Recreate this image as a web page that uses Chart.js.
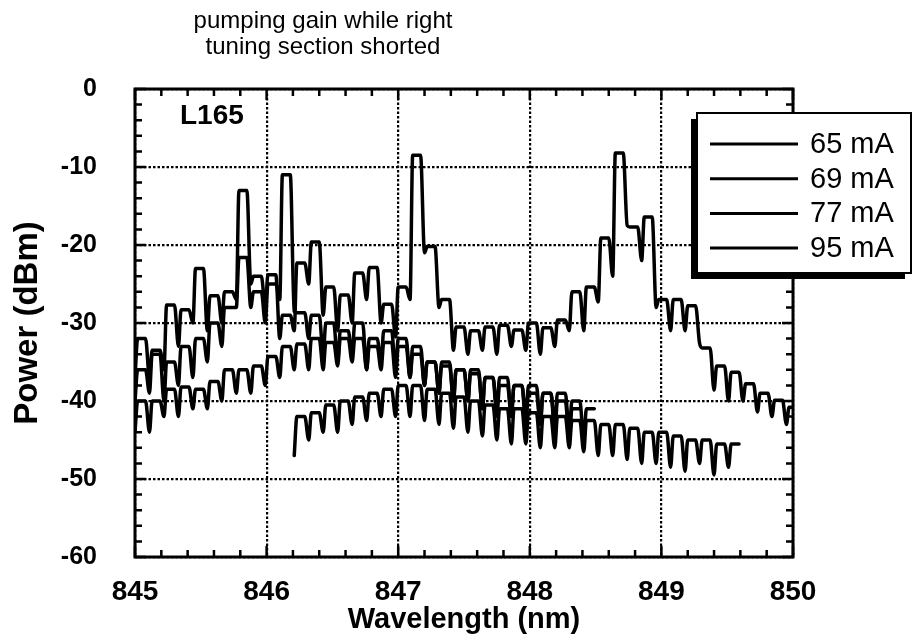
<!DOCTYPE html>
<html>
<head>
<meta charset="utf-8">
<script src="https://cdn.jsdelivr.net/npm/chart.js@4.4.1/dist/chart.umd.min.js"></script>
<style>
  html, body { margin: 0; padding: 0; background: #fff; }
</style>
</head>
<body>
<canvas id="myChart" width="914" height="637"></canvas>
<script>
// cavity mode positions (nm), one top/dip pair per mode
const modeWl = [845.00, 845.11, 845.22, 845.33, 845.44, 845.55, 845.66, 845.77, 845.88, 845.99,
                846.10, 846.21, 846.32, 846.43, 846.54, 846.65, 846.76, 846.87, 846.98, 847.09,
                847.20, 847.31, 847.42, 847.53, 847.64, 847.75, 847.86, 847.97, 848.08, 848.19,
                848.30, 848.41, 848.52, 848.63, 848.74, 848.85, 848.96, 849.07, 849.18, 849.29,
                849.40, 849.51, 849.62, 849.73, 849.84, 849.95];

const currents = ["65 mA", "69 mA", "77 mA", "95 mA"];

// power at the top of each mode and at the dip before it (dBm)
const top65 = [-32, -33.5, -27.7, -28.3, -23, -26.5, -26, -13, -24, -23.8,
               -29, -22.3, -19.6, -25.4, -26.4, -23.6, -22.9, -27.6, -25.4, -8.5,
               -20.2, -27, -30.5, -31, -30.5, -30.3, -30.9, -30, -30.6, -29.6,
               -26, -25.4, -19.1, -8.2, -17.7, -16.4, -27, -27, -27.8, -33.2,
               -35.5, -36.3, -37.8, -39, -39.9, -40.8];
const dip65 = [-37, -37, -36, -33, -30, -31, -30, -27, -25, -28,
               -32, -31, -25, -29, -31, -30, -27, -30, -31.8, -27,
               -21, -28, -33.5, -34, -33.5, -34, -33, -33.5, -34, -33,
               -31, -31, -27.3, -24, -17.5, -22, -28, -31, -31, -32.6,
               -38.6, -40, -40, -41.4, -42, -43];

const top69 = [-36, -34, -35, -33, -32, -30, -28, -21.6, -26, -25,
               -11, -28.7, -29, -30, -31, -30, -32, -31, -32, -33,
               -35, -35.5, -36, -36.5, -37, -37, -38, -38, -39, -39,
               -40, -41, null, null, null, null, null, null, null, null,
               null, null, null, null, null, null];
const dip69 = [-40, -39, -40, -38, -37, -35, -33, -28, -28, -30,
               -27, -28.5, -32, -34, -35, -34, -36, -35, -36, -37,
               -38, -39, -40, -40, -41, -41, -42, -42, -43, -43,
               -44, -45, null, null, null, null, null, null, null, null,
               null, null, null, null, null, null];

const top77 = [-40, -40, -38.5, -38.2, -38.5, -37.5, -36, -36, -35.5, -34.3,
               -33, -32.7, -32, -32.5, -32, -32, -33, -32.5, -33, -34,
               -35, -35, -36, -36, -37, -38, -38, -39, -39, -40,
               -41, null, null, null, null, null, null, null, null, null,
               null, null, null, null, null, null];
const dip77 = [-44, -44, -42, -42, -41, -41, -40, -39, -39, -38,
               -37, -36, -36, -36, -35.5, -35, -36, -36, -37, -37,
               -38, -39, -40, -40, -41, -42, -42, -43, -43, -44,
               -45, null, null, null, null, null, null, null, null, null,
               null, null, null, null, null, null];

const top95 = [null, null, null, null, null, null, null, null, null, null,
               null, -42, -41.5, -40.5, -40, -39.5, -39, -38.5, -38, -38,
               -38.5, -39, -39.5, -40, -40.5, -41, -41, -41.5, -42, -42,
               -42.5, -42.5, -43, -43, -43.5, -44, -44, -44.5, -45, -45,
               -45.5, -45.5, null, null, null, null];
const dip95 = [null, null, null, null, null, null, null, null, null, null,
               null, -47, -45, -44, -44, -43, -42.5, -42, -42, -42,
               -42.5, -43, -43.5, -44, -44.5, -45, -45.5, -45.5, -46, -46,
               -46, -46.5, -47, -47, -47.5, -48, -48, -48.5, -49, -48,
               -49.5, -48.5, null, null, null, null];

const xTicks = [845, 846, 847, 848, 849, 850];
const yTicks = [0, -10, -20, -30, -40, -50, -60];

// each mode: sharp dip, then a flat top
function modePoints(top, dip) {
    let pts = [];
    modeWl.forEach(function(wl, i) {
        if (top[i] === null) return;
        pts.push({x: wl, y: dip[i]});
        pts.push({x: wl + 0.02, y: top[i]});
        pts.push({x: wl + 0.08, y: top[i]});
    });
    return pts;
}

const seriesTop = [top65, top69, top77, top95];
const seriesDip = [dip65, dip69, dip77, dip95];

const FONT = '"Liberation Sans", Arial, Helvetica, sans-serif';

const framePlugin = {
    id: 'frame',
    afterDraw(chart) {
        const ctx = chart.ctx;
        const a = chart.chartArea;
        const xs = chart.scales.x, ys = chart.scales.y;
        ctx.save();
        ctx.strokeStyle = '#000';
        ctx.lineWidth = 3;
        ctx.strokeRect(a.left, a.top, a.right - a.left, a.bottom - a.top);

        // inward ticks on all four sides: minor every 0.2 nm / 2 dB
        ctx.lineWidth = 2.5;
        ctx.beginPath();
        for (let k = 0; k <= 25; k++) {
            let px = xs.getPixelForValue(845 + k * 0.2);
            let len = (k % 5 === 0) ? 11 : 7;
            ctx.moveTo(px, a.bottom); ctx.lineTo(px, a.bottom - len);
            ctx.moveTo(px, a.top); ctx.lineTo(px, a.top + len);
        }
        for (let k = 0; k <= 30; k++) {
            let py = ys.getPixelForValue(-60 + k * 2);
            let len = (k % 5 === 0) ? 11 : 7;
            ctx.moveTo(a.left, py); ctx.lineTo(a.left + len, py);
            ctx.moveTo(a.right, py); ctx.lineTo(a.right - len, py);
        }
        ctx.stroke();

        ctx.fillStyle = '#000';
        ctx.font = 'bold 28px ' + FONT;
        ctx.textAlign = 'left';
        ctx.textBaseline = 'middle';
        ctx.fillText('L165', a.left + 45, a.top + 27);

        // title
        ctx.font = '24px ' + FONT;
        ctx.textAlign = 'center';
        ctx.fillText('pumping gain while right', 323, 21);
        ctx.fillText('tuning section shorted', 323, 47);

        // legend box with drop shadow
        const bx = 697, by = 113, bw = 214, bh = 160;
        ctx.fillRect(bx - 6, by + 6, bw, bh);
        ctx.fillStyle = '#fff';
        ctx.fillRect(bx, by, bw, bh);
        ctx.lineWidth = 2;
        ctx.strokeRect(bx, by, bw, bh);
        ctx.fillStyle = '#000';
        ctx.font = '29px ' + FONT;
        ctx.textAlign = 'left';
        chart.data.datasets.forEach(function(ds, i) {
            let ly = by + 31 + i * 34.7;
            ctx.lineWidth = 3;
            ctx.beginPath();
            ctx.moveTo(bx + 13, ly); ctx.lineTo(bx + 101, ly);
            ctx.stroke();
            ctx.fillText(ds.label, bx + 113, ly + 1);
        });
        ctx.restore();
    }
};

let ctx = document.getElementById("myChart");

let datasets = currents.map(function(label, i) {
    return {
        label: label,
        data: modePoints(seriesTop[i], seriesDip[i]),
        borderColor: '#000',
        borderWidth: 3.5,
        borderJoinStyle: 'round',
        borderCapStyle: 'round',
        pointRadius: 0,
        cubicInterpolationMode: 'monotone',
        fill: false
    };
});

let myChart = new Chart(ctx.getContext("2d"), {
    type: 'line',
    data: {datasets: datasets},
    options: {
        responsive: false,
        animation: false,
        devicePixelRatio: 1,
        layout: {padding: {top: 89, right: 121, bottom: 0, left: 0}},
        plugins: {legend: {display: false}, tooltip: {enabled: false}},
        scales: {
            x: {
                type: 'linear',
                min: 845, max: 850,
                afterFit: function(scale) { scale.height = 80; },
                afterBuildTicks: function(scale) {
                    scale.ticks = xTicks.map(function(v) { return {value: v}; });
                },
                ticks: {
                    color: '#000', padding: 18, maxRotation: 0, autoSkip: false,
                    font: {family: FONT, size: 28, weight: 'bold'}
                },
                grid: {color: '#000', lineWidth: 2.2, drawTicks: false},
                border: {display: false, dash: [2.5, 2]},
                title: {
                    display: true, text: 'Wavelength (nm)', color: '#000',
                    font: {family: FONT, size: 29, weight: 'bold'},
                    padding: {top: 4, bottom: 0}
                }
            },
            y: {
                type: 'linear',
                min: -60, max: 0,
                afterFit: function(scale) { scale.width = 135; },
                afterBuildTicks: function(scale) {
                    scale.ticks = yTicks.map(function(v) { return {value: v}; });
                },
                ticks: {
                    color: '#000', padding: 38,
                    font: {family: FONT, size: 25, weight: 'bold'}
                },
                grid: {color: '#000', lineWidth: 2.2, drawTicks: false},
                border: {display: false, dash: [2.5, 2]},
                title: {
                    display: true, text: 'Power (dBm)', color: '#000',
                    font: {family: FONT, size: 33, weight: 'bold'},
                    padding: {top: 8, bottom: 0}
                }
            }
        }
    },
    plugins: [framePlugin]
});
</script>
</body>
</html>
